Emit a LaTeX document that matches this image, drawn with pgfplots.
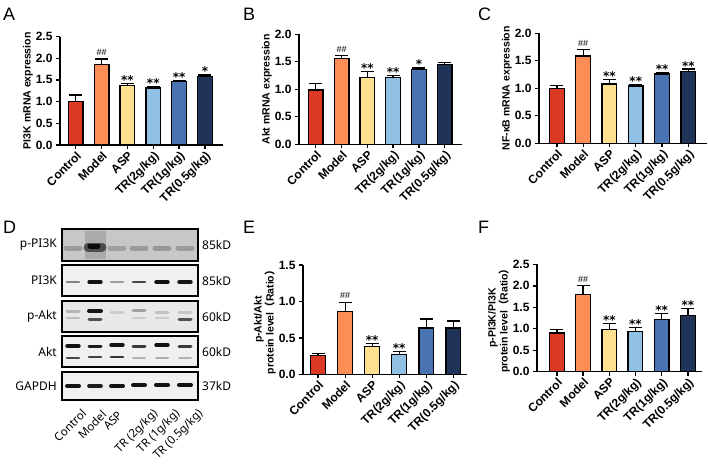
\documentclass[border=0pt]{standalone}
\usepackage{fontspec}
\setmainfont{Liberation Sans}
\newfontfamily\blotfont{Noto Sans}
\newfontfamily\starfam{DejaVu Sans}
\newfontfamily\cjk{Noto Sans CJK SC}
\usepackage{pgfplots}
\pgfplotsset{compat=1.18}

\definecolor{cCtl}{HTML}{DA3A25}
\definecolor{cMod}{HTML}{FB8D55}
\definecolor{cASP}{HTML}{FDE190}
\definecolor{cTR2}{HTML}{90C0E4}
\definecolor{cTR1}{HTML}{4A73B3}
\definecolor{cTR05}{HTML}{1F3458}

\newcommand{\tickfont}{\fontsize{12}{13}\selectfont\bfseries}
\newcommand{\labfont}{\fontsize{10.5}{12}\selectfont\bfseries}
\newcommand{\sigfont}{\fontsize{9}{10}\selectfont}
\newcommand{\starf}{\starfam\fontsize{12}{12}\selectfont\bfseries}
\newcommand{\panelfont}{\fontsize{18}{18}\selectfont}

% blot band: x1, x2, y, opacity, width
\newcommand{\band}[5]{\addplot[forget plot, line cap=round, line width=#5, draw=black, draw opacity=#4] coordinates {(#1,#3) (#2,#3)};}

\tikzset{
  sig/.style={anchor=south, font=\sigfont, inner sep=0pt, yshift=3pt},
  star/.style={anchor=base, font=\starf, inner sep=0pt, yshift=-1pt},
}

\pgfplotsset{gp/.style={
  scale only axis, clip=false,
  axis x line*=bottom, axis y line*=left,
  ybar, bar width=14.7pt,
  xtick={0,1,2,3,4,5},
  xticklabels={Control,Model,ASP,TR(2g/kg),TR(1g/kg),TR(0.5g/kg)},
  x tick label style={rotate=45, anchor=north east, font=\tickfont, inner sep=1pt},
  y tick label style={font=\tickfont, /pgf/number format/.cd, fixed, fixed zerofill, precision=1, assume math mode=true},
  tick align=outside, major tick length=4pt,
  axis line style={line width=1.3pt, black},
  every tick/.style={line width=1.3pt, black},
  ymin=0,
  ylabel style={font=\labfont, align=center},
  ylabel shift=-4pt,
  every axis plot/.append style={draw=black, line width=1.3pt, bar shift=0pt},
  error bars/y dir=plus, error bars/y explicit,
  error bars/error bar style={line width=1.3pt, black},
  error bars/error mark options={rotate=90, line width=1.3pt, mark size=6.5pt, black},
}}

\begin{document}
\begin{tikzpicture}
\useasboundingbox (0pt,0pt) rectangle (708pt,-465pt);

% panel letters
\node[anchor=base west, font=\panelfont, inner sep=0pt] at (3pt,-21pt) {A};
\node[anchor=base west, font=\panelfont, inner sep=0pt] at (243pt,-21pt) {B};
\node[anchor=base west, font=\panelfont, inner sep=0pt] at (478pt,-21pt) {C};
\node[anchor=base west, font=\panelfont, inner sep=0pt] at (3pt,-233pt) {D};
\node[anchor=base west, font=\panelfont, inner sep=0pt] at (243pt,-233pt) {E};
\node[anchor=base west, font=\panelfont, inner sep=0pt] at (478pt,-233pt) {F};

% ---------------- A ----------------
\begin{axis}[gp, at={(60pt,-145pt)}, anchor=south west, width=163pt, height=108.5pt,
  xmin=-0.61, xmax=5.7, ymax=2.5, ytick={0,0.5,1,1.5,2,2.5},
  ylabel={PI3K mRNA expression}]
\addplot[fill=cCtl]  coordinates {(0,1.00) +- (0,0.15)};
\addplot[fill=cMod]  coordinates {(1,1.86) +- (0,0.12)};
\addplot[fill=cASP]  coordinates {(2,1.37) +- (0,0.045)};
\addplot[fill=cTR2]  coordinates {(3,1.31) +- (0,0.04)};
\addplot[fill=cTR1]  coordinates {(4,1.46) +- (0,0.03)};
\addplot[fill=cTR05] coordinates {(5,1.58) +- (0,0.035)};
\node[sig]  at (axis cs:1,1.98) {\#\#};
\node[star] at (axis cs:2,1.415) {**};
\node[star] at (axis cs:3,1.35) {**};
\node[star] at (axis cs:4,1.49) {**};
\node[star] at (axis cs:5,1.615) {*};
\end{axis}

% ---------------- B ----------------
\begin{axis}[gp, at={(299pt,-144.3pt)}, anchor=south west, width=163pt, height=110pt,
  xmin=-0.65, xmax=5.67, ymax=2.0, ytick={0,0.5,1,1.5,2},
  ylabel={Akt mRNA expression}]
\addplot[fill=cCtl]  coordinates {(0,0.99) +- (0,0.11)};
\addplot[fill=cMod]  coordinates {(1,1.56) +- (0,0.06)};
\addplot[fill=cASP]  coordinates {(2,1.21) +- (0,0.12)};
\addplot[fill=cTR2]  coordinates {(3,1.21) +- (0,0.04)};
\addplot[fill=cTR1]  coordinates {(4,1.36) +- (0,0.03)};
\addplot[fill=cTR05] coordinates {(5,1.45) +- (0,0.04)};
\node[sig]  at (axis cs:1,1.62) {\#\#};
\node[star] at (axis cs:2,1.33) {**};
\node[star] at (axis cs:3,1.25) {**};
\node[star] at (axis cs:4,1.39) {*};
\end{axis}

% ---------------- C ----------------
\begin{axis}[gp, at={(539pt,-143.3pt)}, anchor=south west, width=168pt, height=110pt,
  xmin=-0.68, xmax=5.71, ymax=2.0, ytick={0,0.5,1,1.5,2},
  ylabel={NF-κB mRNA expression}]
\addplot[fill=cCtl]  coordinates {(0,1.00) +- (0,0.05)};
\addplot[fill=cMod]  coordinates {(1,1.59) +- (0,0.12)};
\addplot[fill=cASP]  coordinates {(2,1.08) +- (0,0.08)};
\addplot[fill=cTR2]  coordinates {(3,1.04) +- (0,0.03)};
\addplot[fill=cTR1]  coordinates {(4,1.26) +- (0,0.03)};
\addplot[fill=cTR05] coordinates {(5,1.30) +- (0,0.05)};
\node[sig]  at (axis cs:1,1.71) {\#\#};
\node[star] at (axis cs:2,1.16) {**};
\node[star] at (axis cs:3,1.07) {**};
\node[star] at (axis cs:4,1.29) {**};
\node[star] at (axis cs:5,1.35) {**};
\end{axis}

% ---------------- E ----------------
\begin{axis}[gp, at={(303pt,-374.3pt)}, anchor=south west, width=164pt, height=109.3pt,
  xmin=-0.56, xmax=5.51, ymax=1.5, ytick={0,0.5,1,1.5},
  ylabel={p-Akt/Akt\\protein level{\cjk （}Ratio{\cjk ）}}]
\addplot[fill=cCtl]  coordinates {(0,0.256) +- (0,0.034)};
\addplot[fill=cMod]  coordinates {(1,0.86) +- (0,0.13)};
\addplot[fill=cASP]  coordinates {(2,0.38) +- (0,0.045)};
\addplot[fill=cTR2]  coordinates {(3,0.27) +- (0,0.04)};
\addplot[fill=cTR1]  coordinates {(4,0.635) +- (0,0.125)};
\addplot[fill=cTR05] coordinates {(5,0.635) +- (0,0.095)};
\node[sig]  at (axis cs:1,0.99) {\#\#};
\node[star] at (axis cs:2,0.425) {**};
\node[star] at (axis cs:3,0.31) {**};
\end{axis}

% ---------------- F ----------------
\begin{axis}[gp, at={(537pt,-371.7pt)}, anchor=south west, width=165pt, height=107.3pt,
  xmin=-0.76, xmax=5.54, ymax=2.5, ytick={0,0.5,1,1.5,2,2.5},
  ylabel={p-PI3K/PI3K\\protein level{\cjk （}Ratio{\cjk ）}}]
\addplot[fill=cCtl]  coordinates {(0,0.90) +- (0,0.09)};
\addplot[fill=cMod]  coordinates {(1,1.80) +- (0,0.21)};
\addplot[fill=cASP]  coordinates {(2,0.99) +- (0,0.14)};
\addplot[fill=cTR2]  coordinates {(3,0.94) +- (0,0.09)};
\addplot[fill=cTR1]  coordinates {(4,1.21) +- (0,0.15)};
\addplot[fill=cTR05] coordinates {(5,1.31) +- (0,0.16)};
\node[sig]  at (axis cs:1,2.01) {\#\#};
\node[star] at (axis cs:2,1.13) {**};
\node[star] at (axis cs:3,1.03) {**};
\node[star] at (axis cs:4,1.36) {**};
\node[star] at (axis cs:5,1.47) {**};
\end{axis}

% ---------------- D (western blot) ----------------
\begin{axis}[scale only axis, hide axis, clip=false, at={(62pt,-400pt)}, anchor=south west,
  width=136pt, height=171pt, xmin=62, xmax=198, ymin=229, ymax=400, y dir=reverse]
% frames with backgrounds
\addplot[forget plot, fill=black!22, draw=none] coordinates {(62,229) (198,229) (198,261) (62,261)} -- cycle;
\addplot[forget plot, fill=black!6, draw=none]  coordinates {(62,265) (198,265) (198,296) (62,296)} -- cycle;
\addplot[forget plot, fill=black!9, draw=none]  coordinates {(62,301) (198,301) (198,332) (62,332)} -- cycle;
\addplot[forget plot, fill=black!6, draw=none]  coordinates {(62,336) (198,336) (198,367) (62,367)} -- cycle;
\addplot[forget plot, fill=black!6, draw=none]  coordinates {(62,372) (198,372) (198,400) (62,400)} -- cycle;
% p-PI3K row
\addplot[forget plot, fill=black, fill opacity=0.14, draw=none] coordinates {(85,231) (106,231) (106,259) (85,259)} -- cycle;
\band{66}{80}{248}{0.22}{5pt}
\band{88}{102}{247}{0.55}{9pt}
\band{90}{98}{246}{0.85}{5pt}
\band{110}{124}{248}{0.2}{5pt}
\band{132}{146}{248}{0.22}{5pt}
\band{155}{169}{248}{0.24}{5pt}
\band{178}{192}{248}{0.22}{5pt}
% PI3K row
\band{67}{79}{282}{0.45}{2.2pt}
\band{89}{101}{282}{0.92}{3.2pt}
\band{111}{123}{282}{0.35}{2.2pt}
\band{133}{145}{282}{0.7}{2.8pt}
\band{156}{168}{282}{0.92}{3.4pt}
\band{179}{191}{282}{0.9}{3.4pt}
% p-Akt row
\band{67}{79}{311}{0.22}{3pt}
\band{67}{79}{318}{0.18}{2.5pt}
\band{89}{101}{311}{0.9}{4pt}
\band{89}{101}{319}{0.65}{3pt}
\band{111}{123}{312}{0.12}{3pt}
\band{133}{145}{310}{0.3}{3pt}
\band{133}{145}{318}{0.12}{2.5pt}
\band{156}{168}{312}{0.16}{3pt}
\band{156}{168}{318}{0.12}{2.5pt}
\band{179}{191}{312}{0.15}{3pt}
\band{179}{191}{319}{0.65}{3pt}
% Akt row
\band{67}{79}{346}{0.92}{3.4pt}
\band{89}{101}{346}{0.88}{3pt}
\band{111}{123}{345}{0.92}{3.4pt}
\band{133}{145}{346}{0.75}{3pt}
\band{156}{168}{345}{0.92}{3.4pt}
\band{179}{191}{346}{0.75}{3pt}
\band{67}{79}{358}{0.7}{2.4pt}
\band{89}{101}{357}{0.72}{2.6pt}
\band{111}{123}{357}{0.78}{2.8pt}
\band{133}{145}{358}{0.25}{2pt}
\band{156}{168}{358}{0.28}{2pt}
\band{179}{191}{358}{0.25}{2pt}
% GAPDH row
\band{67}{79}{386}{0.92}{4pt}
\band{89}{101}{386}{0.88}{3.6pt}
\band{111}{123}{386}{0.92}{4pt}
\band{133}{145}{385}{0.92}{4pt}
\band{156}{168}{385}{0.92}{4pt}
\band{179}{191}{385}{0.92}{4pt}
% frames
\addplot[forget plot, draw=black, line width=1.6pt] coordinates {(62,229) (198,229) (198,261) (62,261)} -- cycle;
\addplot[forget plot, draw=black, line width=1.6pt] coordinates {(62,265) (198,265) (198,296) (62,296)} -- cycle;
\addplot[forget plot, draw=black, line width=1.6pt] coordinates {(62,301) (198,301) (198,332) (62,332)} -- cycle;
\addplot[forget plot, draw=black, line width=1.6pt] coordinates {(62,336) (198,336) (198,367) (62,367)} -- cycle;
\addplot[forget plot, draw=black, line width=1.6pt] coordinates {(62,372) (198,372) (198,400) (62,400)} -- cycle;
% labels
\node[anchor=east, font=\blotfont\fontsize{12}{12}\selectfont, inner sep=0pt] at (axis cs:57,245) {p-PI3K};
\node[anchor=east, font=\blotfont\fontsize{12}{12}\selectfont, inner sep=0pt] at (axis cs:57,280.5) {PI3K};
\node[anchor=east, font=\blotfont\fontsize{12}{12}\selectfont, inner sep=0pt] at (axis cs:57,316.5) {p-Akt};
\node[anchor=east, font=\blotfont\fontsize{12}{12}\selectfont, inner sep=0pt] at (axis cs:57,351.5) {Akt};
\node[anchor=east, font=\blotfont\fontsize{12}{12}\selectfont, inner sep=0pt] at (axis cs:57,386) {GAPDH};
\node[anchor=west, font=\blotfont\fontsize{12}{12}\selectfont, inner sep=0pt] at (axis cs:202,245) {85kD};
\node[anchor=west, font=\blotfont\fontsize{12}{12}\selectfont, inner sep=0pt] at (axis cs:202,280.5) {85kD};
\node[anchor=west, font=\blotfont\fontsize{12}{12}\selectfont, inner sep=0pt] at (axis cs:202,316.5) {60kD};
\node[anchor=west, font=\blotfont\fontsize{12}{12}\selectfont, inner sep=0pt] at (axis cs:202,351.5) {60kD};
\node[anchor=west, font=\blotfont\fontsize{12}{12}\selectfont, inner sep=0pt] at (axis cs:202,386) {37kD};
\node[rotate=45, anchor=north east, font=\blotfont\fontsize{11.5}{11.5}\selectfont, inner sep=0pt] at (axis cs:81,408) {Control};
\node[rotate=45, anchor=north east, font=\blotfont\fontsize{11.5}{11.5}\selectfont, inner sep=0pt] at (axis cs:101,409) {Model};
\node[rotate=45, anchor=north east, font=\blotfont\fontsize{11.5}{11.5}\selectfont, inner sep=0pt] at (axis cs:117,410) {ASP};
\node[rotate=45, anchor=north east, font=\blotfont\fontsize{11.5}{11.5}\selectfont, inner sep=0pt] at (axis cs:152,408) {TR (2g/kg)};
\node[rotate=45, anchor=north east, font=\blotfont\fontsize{11.5}{11.5}\selectfont, inner sep=0pt] at (axis cs:174,408) {TR (1g/kg)};
\node[rotate=45, anchor=north east, font=\blotfont\fontsize{11.5}{11.5}\selectfont, inner sep=0pt] at (axis cs:197,408) {TR (0.5g/kg)};
\end{axis}
\end{tikzpicture}
\end{document}
